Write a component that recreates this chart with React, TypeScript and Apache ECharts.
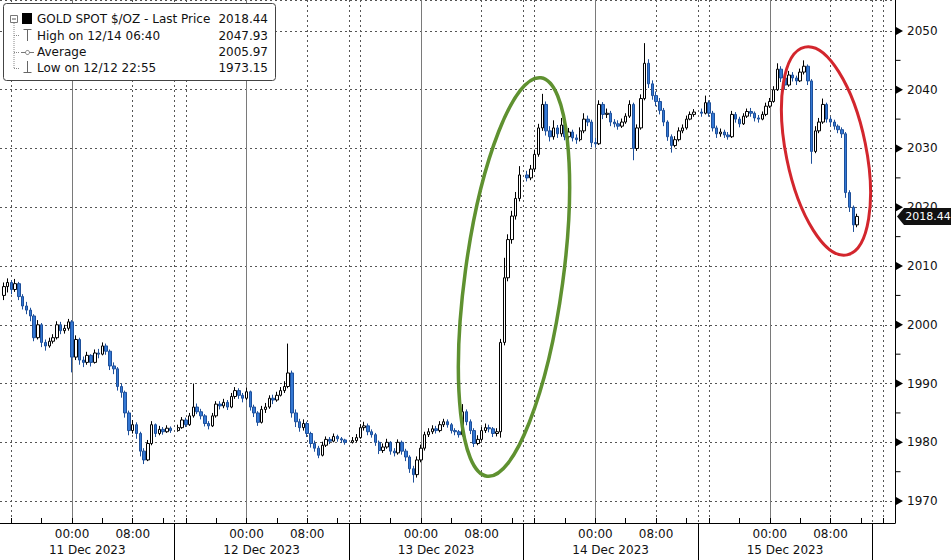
import React, { useEffect, useRef } from 'react';
import * as echarts from 'echarts';

// ---- tick / label texts ----
const dayLabels = ['11 Dec 2023', '12 Dec 2023', '13 Dec 2023', '14 Dec 2023', '15 Dec 2023'];
const timeLabelSlots = [19, 35]; // 00:00 and 08:00 within each 46-slot (30 min) session
const priceTicks = [1970, 1980, 1990, 2000, 2010, 2020, 2030, 2040, 2050];
const minorPriceTicks = [1975, 1985, 1995, 2005, 2015, 2025, 2035, 2045];
const legendLabels = ['GOLD SPOT $/OZ - Last Price', 'High on 12/14 06:40', 'Average', 'Low on 12/12 22:55'];
const legendValues = ['2018.44', '2047.93', '2005.97', '1973.15'];
const lastPrice = 2018.44;

// ---- 30-minute bars, per session: [close, low, high]; open = previous close ----
const firstOpen = 2005.0;
const dec11 = [
  [2006.5, 2004.2, 2007.2], [2007.2, 2005.5, 2007.9], [2006.0, 2005.2, 2007.6], [2007.0, 2005.6, 2007.8],
  [2004.8, 2004.2, 2007.3], [2003.2, 2002.6, 2005.2], [2002.5, 2001.8, 2003.9], [2001.5, 2000.6, 2002.9],
  [1997.8, 1997.2, 2001.8], [2000.0, 1997.5, 2000.8], [1997.0, 1996.2, 2000.3], [1996.4, 1995.6, 1997.5],
  [1997.2, 1996.1, 1997.8], [1997.8, 1996.8, 1998.4], [2000.0, 1997.5, 2000.6], [1999.0, 1998.4, 2000.5],
  [1999.4, 1998.5, 2000.0], [2000.5, 1999.0, 2001.0], [1994.5, 1991.9, 2000.8], [1997.5, 1994.0, 1998.2],
  [1994.0, 1993.2, 1997.8], [1993.6, 1992.8, 1994.6], [1994.8, 1993.2, 1995.4], [1993.6, 1992.9, 1995.0],
  [1995.2, 1993.4, 1995.8], [1995.0, 1994.3, 1995.9], [1996.4, 1994.8, 1997.0], [1995.5, 1994.9, 1996.8],
  [1993.0, 1992.3, 1995.8], [1992.5, 1991.6, 1993.6], [1989.5, 1988.8, 1992.8], [1988.5, 1987.6, 1990.0],
  [1985.0, 1984.2, 1988.8], [1982.0, 1981.2, 1985.4], [1983.0, 1981.5, 1983.8], [1981.5, 1980.6, 1983.4],
  [1978.5, 1977.6, 1981.8], [1977.0, 1976.3, 1979.0], [1979.8, 1976.8, 1980.4], [1983.0, 1979.5, 1983.6],
  [1981.5, 1980.9, 1983.2], [1982.2, 1981.2, 1982.8], [1981.8, 1981.3, 1982.6], [1982.4, 1981.6, 1982.9],
  [1982.0, 1981.6, 1982.7],
];
const dec12 = [
  [1982.5, 1981.8, 1983.0], [1983.8, 1982.3, 1984.3], [1983.0, 1982.6, 1984.2], [1984.5, 1982.8, 1985.0],
  [1986.0, 1984.2, 1990.0], [1985.2, 1984.8, 1986.6], [1984.5, 1983.9, 1985.7], [1983.2, 1982.7, 1984.8],
  [1982.8, 1982.2, 1983.6], [1984.5, 1982.6, 1985.0], [1986.5, 1984.2, 1987.0], [1986.2, 1985.6, 1987.0],
  [1986.8, 1985.8, 1987.4], [1986.0, 1985.5, 1987.2], [1987.8, 1985.8, 1988.4], [1988.8, 1987.4, 1989.4],
  [1988.0, 1987.4, 1989.2], [1987.5, 1986.8, 1988.4], [1988.6, 1987.2, 1989.3], [1986.0, 1985.4, 1988.8],
  [1985.0, 1984.3, 1986.4], [1983.4, 1982.8, 1985.3], [1985.6, 1983.2, 1986.2], [1986.0, 1985.0, 1986.7],
  [1987.5, 1985.7, 1988.0], [1987.2, 1986.5, 1988.1], [1988.0, 1986.9, 1988.6], [1988.8, 1987.8, 1989.4],
  [1989.5, 1988.4, 1990.4], [1991.8, 1989.2, 1996.8], [1985.0, 1984.2, 1992.2], [1983.5, 1982.6, 1985.6],
  [1982.5, 1981.8, 1984.0], [1983.2, 1982.0, 1983.9], [1981.5, 1980.9, 1983.5], [1979.8, 1979.1, 1981.8],
  [1979.0, 1978.4, 1980.3], [1977.8, 1977.3, 1979.4], [1979.5, 1977.6, 1980.1], [1980.5, 1979.2, 1981.0],
  [1980.2, 1979.7, 1980.9], [1981.0, 1980.0, 1981.5], [1980.6, 1980.1, 1981.3], [1980.4, 1979.9, 1980.9],
  [1980.0, 1979.6, 1980.6],
];
const dec13 = [
  [1980.3, 1979.8, 1980.9], [1980.8, 1980.0, 1981.4], [1982.5, 1980.6, 1983.1], [1982.8, 1982.0, 1983.5],
  [1981.8, 1981.2, 1983.2], [1981.3, 1980.8, 1982.2], [1980.0, 1979.4, 1981.6], [1978.6, 1978.0, 1980.3],
  [1979.2, 1978.2, 1979.8], [1980.0, 1978.9, 1980.6], [1978.5, 1977.9, 1980.2], [1978.2, 1977.6, 1979.0],
  [1980.0, 1977.9, 1980.5], [1978.5, 1977.9, 1980.3], [1977.5, 1976.8, 1978.9], [1975.5, 1974.8, 1977.8],
  [1974.5, 1973.15, 1976.0], [1977.0, 1974.0, 1977.6], [1979.0, 1976.6, 1979.6], [1981.3, 1978.6, 1981.8],
  [1981.8, 1980.9, 1982.4], [1982.3, 1981.4, 1982.9], [1982.0, 1981.5, 1982.8], [1983.0, 1981.7, 1983.6],
  [1983.5, 1982.6, 1984.0], [1983.0, 1982.5, 1983.9], [1982.0, 1981.5, 1983.3], [1981.8, 1981.2, 1982.4],
  [1981.3, 1980.8, 1982.1], [1985.2, 1981.0, 1986.5], [1983.5, 1982.9, 1985.6], [1982.0, 1981.4, 1983.9],
  [1979.8, 1979.2, 1982.4], [1980.5, 1979.5, 1981.2], [1982.0, 1980.2, 1982.6], [1982.5, 1981.6, 1983.2],
  [1982.3, 1981.7, 1983.0], [1981.5, 1980.9, 1982.6], [1981.8, 1981.0, 1982.4], [1997.0, 1980.8, 1997.6],
  [2008.0, 1996.5, 2011.4], [2014.5, 2007.4, 2015.4], [2018.5, 2013.8, 2019.4], [2021.5, 2017.9, 2022.6],
  [2025.5, 2021.0, 2027.0],
];
const dec14 = [
  [2025.0, 2024.4, 2026.2], [2026.5, 2024.6, 2027.2], [2029.0, 2026.0, 2029.8], [2033.5, 2028.6, 2034.2],
  [2037.5, 2033.0, 2039.3], [2033.0, 2032.2, 2038.0], [2032.0, 2031.2, 2033.8], [2033.5, 2031.5, 2034.8],
  [2032.5, 2031.8, 2034.0], [2034.0, 2032.0, 2035.2], [2032.0, 2031.4, 2034.5], [2032.8, 2031.6, 2033.5],
  [2031.8, 2031.2, 2033.2], [2031.5, 2030.8, 2032.4], [2033.0, 2031.2, 2033.6], [2035.0, 2032.6, 2036.0],
  [2034.5, 2033.8, 2035.6], [2031.0, 2030.2, 2034.9], [2030.8, 2030.2, 2031.8], [2037.5, 2030.6, 2038.2],
  [2035.8, 2035.0, 2037.9], [2036.0, 2035.2, 2036.8], [2034.5, 2033.8, 2036.4], [2034.2, 2033.6, 2035.0],
  [2033.8, 2033.2, 2034.8], [2034.5, 2033.5, 2035.1], [2035.5, 2034.2, 2036.0], [2037.5, 2035.2, 2038.2],
  [2030.0, 2028.0, 2037.8], [2033.5, 2029.6, 2034.1], [2038.5, 2033.2, 2039.2], [2044.5, 2038.2, 2047.93],
  [2041.0, 2040.3, 2045.2], [2039.0, 2038.3, 2041.6], [2038.0, 2037.2, 2039.7], [2036.5, 2035.8, 2038.6],
  [2034.5, 2033.8, 2036.9], [2032.0, 2031.3, 2034.8], [2030.5, 2029.3, 2032.4], [2031.5, 2030.2, 2032.1],
  [2033.0, 2031.2, 2033.6], [2033.5, 2032.6, 2034.1], [2035.0, 2033.2, 2035.6], [2035.8, 2034.8, 2036.3],
  [2036.2, 2035.4, 2036.7],
];
const dec15 = [
  [2036.0, 2035.4, 2036.8], [2037.8, 2035.8, 2039.0], [2036.0, 2035.4, 2038.2], [2033.5, 2032.9, 2036.4],
  [2032.5, 2031.8, 2033.9], [2032.8, 2032.0, 2033.4], [2032.3, 2031.8, 2033.2], [2032.0, 2031.5, 2032.8],
  [2035.8, 2031.8, 2036.4], [2035.0, 2034.4, 2036.2], [2034.2, 2033.6, 2035.4], [2035.5, 2034.0, 2036.0],
  [2036.3, 2035.2, 2036.8], [2036.0, 2035.4, 2036.9], [2035.2, 2034.6, 2036.3], [2035.0, 2034.4, 2035.7],
  [2035.8, 2034.8, 2036.3], [2037.2, 2035.5, 2037.8], [2038.0, 2036.9, 2038.6], [2040.0, 2037.8, 2040.6],
  [2043.5, 2039.8, 2044.5], [2042.0, 2041.3, 2044.0], [2040.8, 2040.0, 2042.5], [2042.5, 2040.5, 2043.2],
  [2042.0, 2041.4, 2043.0], [2041.5, 2040.8, 2042.4], [2043.0, 2041.3, 2043.6], [2044.0, 2042.6, 2045.0],
  [2041.5, 2040.8, 2044.3], [2029.5, 2027.4, 2041.8], [2033.0, 2029.2, 2033.8], [2034.5, 2032.6, 2035.2],
  [2037.5, 2034.2, 2038.5], [2035.0, 2034.4, 2037.8], [2034.5, 2033.8, 2035.4], [2033.8, 2033.2, 2034.9],
  [2033.2, 2032.6, 2034.1], [2032.5, 2031.8, 2033.6], [2022.5, 2021.6, 2032.8], [2020.0, 2019.2, 2022.9],
  [2017.0, 2015.8, 2020.3], [2018.44, 2016.6, 2018.9],
];
const sessions = [dec11, dec12, dec13, dec14, dec15];

const SLOTS_PER_DAY = 46; // 23 trading hours of 30-minute slots
const TOTAL_SLOTS = 237;

const pad = (n: number) => (n < 10 ? '0' + n : '' + n);
const categories: string[] = [];
for (let i = 0; i < TOTAL_SLOTS; i++) {
  const d = Math.floor(i / SLOTS_PER_DAY);
  const rel = i % SLOTS_PER_DAY;
  const mins = 14 * 60 + 30 + rel * 30;
  const date = 10 + d + (mins >= 1440 ? 1 : 0);
  const m = mins % 1440;
  categories.push(`Dec ${date} ${pad(Math.floor(m / 60))}:${pad(m % 60)}`);
}

const candles: any[] = new Array(TOTAL_SLOTS).fill('-');
{
  let prev = firstOpen;
  sessions.forEach((s, k) => {
    const start = k * SLOTS_PER_DAY + 1;
    s.forEach(([c, l, h], j) => {
      candles[start + j] = [prev, c, l, h];
      prev = c;
    });
  });
}

const FONT = 'DejaVu Sans';
const lastCat = categories[TOTAL_SLOTS - 1];

export default function App() {
  const ref = useRef<HTMLDivElement>(null);
  useEffect(() => {
    const chart = echarts.init(ref.current!, null, { renderer: 'svg' });
    const legendGraphics: any[] = [
      { type: 'rect', z: 100, silent: true, shape: { x: 3.5, y: 3.5, width: 272, height: 77, r: 3 }, style: { fill: '#fff', stroke: '#444', lineWidth: 1 } },
      { type: 'line', z: 101, silent: true, shape: { x1: 14, y1: 23, x2: 14, y2: 68 }, style: { stroke: '#888', lineWidth: 1, lineDash: [1, 1] } },
      { type: 'line', z: 101, silent: true, shape: { x1: 14, y1: 35.5, x2: 20, y2: 35.5 }, style: { stroke: '#888', lineDash: [1, 1] } },
      { type: 'line', z: 101, silent: true, shape: { x1: 14, y1: 52.5, x2: 20, y2: 52.5 }, style: { stroke: '#888', lineDash: [1, 1] } },
      { type: 'line', z: 101, silent: true, shape: { x1: 14, y1: 68.5, x2: 20, y2: 68.5 }, style: { stroke: '#888', lineDash: [1, 1] } },
      { type: 'rect', z: 102, silent: true, shape: { x: 10.5, y: 15.5, width: 7, height: 7 }, style: { fill: '#fff', stroke: '#777' } },
      { type: 'line', z: 102, silent: true, shape: { x1: 12, y1: 19, x2: 16, y2: 19 }, style: { stroke: '#555' } },
      { type: 'rect', z: 102, silent: true, shape: { x: 22, y: 13, width: 10, height: 11 }, style: { fill: '#000' } },
      { type: 'line', z: 102, silent: true, shape: { x1: 23.5, y1: 29.5, x2: 31.5, y2: 29.5 }, style: { stroke: '#666' } },
      { type: 'line', z: 102, silent: true, shape: { x1: 27.5, y1: 29.5, x2: 27.5, y2: 41 }, style: { stroke: '#666' } },
      { type: 'line', z: 102, silent: true, shape: { x1: 21, y1: 52.5, x2: 34, y2: 52.5 }, style: { stroke: '#777' } },
      { type: 'circle', z: 103, silent: true, shape: { cx: 27.5, cy: 52.5, r: 2 }, style: { fill: '#fff', stroke: '#777' } },
      { type: 'line', z: 102, silent: true, shape: { x1: 27.5, y1: 61, x2: 27.5, y2: 72.5 }, style: { stroke: '#666' } },
      { type: 'line', z: 102, silent: true, shape: { x1: 23.5, y1: 72.5, x2: 31.5, y2: 72.5 }, style: { stroke: '#666' } },
    ];
    const rowY = [19, 35.5, 52, 68];
    legendLabels.forEach((t, k) => {
      legendGraphics.push({
        type: 'text', z: 104, silent: true, x: 37, y: rowY[k],
        style: { text: t, fill: '#111', fontSize: 12, fontFamily: FONT, verticalAlign: 'middle', align: 'left' },
      });
      legendGraphics.push({
        type: 'text', z: 104, silent: true, x: 268, y: rowY[k],
        style: { text: legendValues[k], fill: '#111', fontSize: 12, fontFamily: FONT, verticalAlign: 'middle', align: 'right' },
      });
    });

    const option: any = {
      animation: false,
      backgroundColor: '#ffffff',
      textStyle: { fontFamily: FONT },
      grid: { left: 0, right: 56, top: -1, bottom: 37, containLabel: false },
      xAxis: [
        {
          type: 'category', data: categories, boundaryGap: false, position: 'bottom',
          axisLine: { show: true, lineStyle: { color: '#000', width: 1 } },
          axisTick: {
            show: true, inside: true, length: 5, lineStyle: { color: '#000' },
            interval: (i: number) => i % SLOTS_PER_DAY >= 3 && ((i % SLOTS_PER_DAY) - 3) % 8 === 0,
          },
          axisLabel: {
            show: true, margin: 5, color: '#111', fontSize: 12, fontFamily: FONT,
            interval: (i: number) => timeLabelSlots.includes(i % SLOTS_PER_DAY),
            formatter: (v: string) => v.slice(-5),
          },
          splitLine: { show: true, interval: (i: number) => i % SLOTS_PER_DAY === 19, lineStyle: { color: '#7a7a7a', width: 1, type: 'solid' } },
        },
        {
          type: 'category', data: categories, boundaryGap: false, position: 'bottom', offset: 0,
          axisLine: { show: false },
          axisTick: {
            show: true, inside: false, length: 37, lineStyle: { color: '#000' },
            interval: (i: number) => i > 0 && i % SLOTS_PER_DAY === 0,
          },
          axisLabel: {
            show: true, margin: 21, color: '#111', fontSize: 12, fontFamily: FONT,
            interval: (i: number) => i % SLOTS_PER_DAY === 23,
            formatter: (_v: string, i: number) => dayLabels[Math.floor(i / SLOTS_PER_DAY)] || '',
          },
          splitLine: {
            show: true,
            interval: (i: number) => i > 0 && [0, 3, 35].includes(i % SLOTS_PER_DAY),
            lineStyle: { color: '#555', width: 1, type: [2, 3] },
          },
        },
      ],
      yAxis: {
        type: 'value', position: 'right', min: 1966.27, max: 2055.27, splitNumber: 9,
        axisLine: { show: true, lineStyle: { color: '#000', width: 1 } },
        axisTick: { show: false },
        axisLabel: {
          margin: 12, color: '#111', fontSize: 12, fontFamily: FONT,
          showMinLabel: false, showMaxLabel: false,
          formatter: (v: number) => String(Math.round(v)),
        },
        splitLine: { show: true, lineStyle: { color: '#555', width: 1, type: [2, 3] } },
      },
      graphic: [
        ...legendGraphics,
        {
          type: 'ellipse', z: 60, silent: true, x: 514, y: 277, rotation: -0.134,
          shape: { cx: 0, cy: 0, rx: 49, ry: 201 },
          style: { fill: 'none', stroke: '#5f9130', lineWidth: 3.5 },
        },
        {
          type: 'ellipse', z: 60, silent: true, x: 826, y: 151, rotation: 0.2,
          shape: { cx: 0, cy: 0, rx: 40, ry: 106 },
          style: { fill: 'none', stroke: '#d3262d', lineWidth: 3 },
        },
      ],
      series: [
        {
          type: 'candlestick',
          xAxisIndex: 0, yAxisIndex: 0,
          data: candles,
          barWidth: '78%',
          itemStyle: {
            color: '#ffffff', color0: '#3478d4',
            borderColor: '#000000', borderColor0: '#1d4f9a', borderWidth: 1,
          },
          markPoint: {
            silent: true, animation: false,
            data: [
              ...priceTicks.map((v) => ({
                coord: [lastCat, v], symbol: 'path://M0,0L8,4.5L0,9Z', symbolSize: [7, 8],
                symbolOffset: [4.5, 0], itemStyle: { color: '#000' }, label: { show: false },
              })),
              ...minorPriceTicks.map((v) => ({
                coord: [lastCat, v], symbol: 'rect', symbolSize: [5, 1],
                symbolOffset: [3, 0], itemStyle: { color: '#000' }, label: { show: false },
              })),
              {
                coord: [lastCat, lastPrice], symbol: 'path://M0,8.5L7,0L60,0L60,17L7,17Z', symbolSize: [60, 17],
                symbolOffset: [32, 0], itemStyle: { color: '#111' },
                label: { show: true, position: 'inside', formatter: lastPrice.toFixed(2), color: '#fff', fontSize: 11, fontFamily: FONT, offset: [1, 0] },
              },
            ],
          },
        },
      ],
    };
    chart.setOption(option);
    return () => chart.dispose();
  }, []);
  return <div ref={ref} style={{ position: 'fixed', left: 0, top: 0, width: 951, height: 560, background: '#fff' }} />;
}
